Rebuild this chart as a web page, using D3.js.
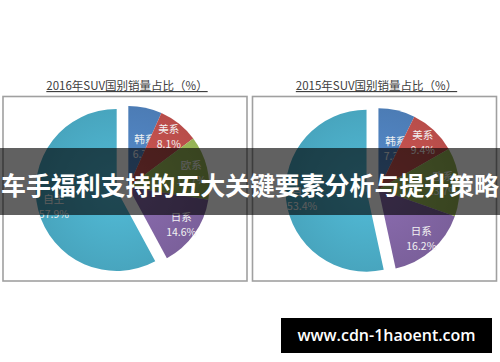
<!DOCTYPE html>
<html>
<head>
<meta charset="utf-8">
<script src="https://cdn.jsdelivr.net/npm/d3@7"></script>
<style>
  html, body { margin: 0; padding: 0; background: #fff; }
  svg { display: block; }
</style>
</head>
<body>
<svg id="chart"></svg>
<script>
var width = 500;
var height = 362;

// data
var categories = ["韩系", "美系", "欧系", "日系", "自主"];
var share2016 = [6.7, 8.1, 12.7, 14.6, 57.9];
var share2015 = [7.3, 9.4, 13.7, 16.2, 53.4];
var chartTitles = ["2016年SUV国别销量占比（%）", "2015年SUV国别销量占比（%）"];
var headline = "车手福利支持的五大关键要素分析与提升策略";
var watermark = "www.cdn-1haoent.com";

var colors = ["#4f81bd", "#c0504d", "#9bbb59", "#8064a2", "#4bacc6"];

// panel layout
var panels = [
  { title: chartTitles[0], values: share2016, x: 3, cx: 122.5, cy: 188.5 },
  { title: chartTitles[1], values: share2015, x: 252.5, cx: 372.5, cy: 190 }
];
var radius = 81;
var explode = 6;

var svg =
  d3.select("#chart")
      .attr("width", width)
      .attr("height", height);

var defs = svg.append("defs");

var pie =
  d3.pie()
    .sort(null)
    .value(d => d.value);

var arc =
  d3.arc()
    .innerRadius(0)
    .outerRadius(radius);

panels.forEach((p, pi) => {
  var g = svg.append("g").classed("panel", true);

  // title
  g.append("text")
      .text(p.title)
      .attr("x", p.x + 124)
      .attr("y", 90)
      .attr("text-anchor", "middle")
      .style("font-family", "'Noto Sans CJK SC', sans-serif")
      .style("font-size", "11.5px")
      .style("fill", "#404040")
      .style("text-decoration", "underline");

  // frame
  g.append("rect")
      .attr("x", p.x)
      .attr("y", 96.5)
      .attr("width", 244)
      .attr("height", 184.5)
      .attr("fill", "none")
      .attr("stroke", "#a0a0a0")
      .attr("stroke-width", 1.6);

  var rows = categories.map((c, i) => ({ name: c, value: p.values[i] }));
  var arcs = pie(rows);

  // two exploded groups: the small slices together, and the biggest one
  var last = arcs.length - 1;
  var restMid = arcs[last - 1].endAngle / 2;
  var bigMid = (arcs[last].startAngle + arcs[last].endAngle) / 2;
  var shift = d => {
    var a = d.index === last ? bigMid : restMid;
    return [Math.sin(a) * explode, -Math.cos(a) * explode];
  };

  // shading gradients
  colors.forEach((c, i) => {
    var grad =
      defs.append("radialGradient")
        .attr("id", `grad-${pi}-${i}`)
        .attr("gradientUnits", "userSpaceOnUse")
        .attr("cx", 0)
        .attr("cy", 0)
        .attr("r", radius);
    grad.append("stop")
        .attr("offset", "0%")
        .attr("stop-color", d3.color(c).brighter(0.25));
    grad.append("stop")
        .attr("offset", "100%")
        .attr("stop-color", d3.color(c).darker(0.12));
  });

  var slices =
    g.selectAll("g.slice")
      .data(arcs)
      .enter()
      .append("g")
        .classed("slice", true)
        .attr("transform", d => {
          var s = shift(d);
          return `translate(${p.cx + s[0]}, ${p.cy + s[1]})`;
        });

  slices
    .append("path")
      .attr("d", arc)
      .attr("fill", d => `url(#grad-${pi}-${d.index})`);

  // labels
  slices
    .append("g")
      .attr("transform", d => {
        var small = d.endAngle - d.startAngle < 0.48;
        var r = radius * (small ? 0.55 : 0.8);
        var a = (d.startAngle + d.endAngle) / 2 + (small ? 0.17 : 0);
        return `translate(${Math.sin(a) * r}, ${-Math.cos(a) * r})`;
      })
      .each(function(d) {
        var lbl = d3.select(this);
        lbl.append("text")
            .text(d.data.name)
            .attr("y", -3)
            .attr("text-anchor", "middle");
        lbl.append("text")
            .text(d3.format(".1f")(d.data.value) + "%")
            .attr("y", 12)
            .attr("text-anchor", "middle");
      })
      .selectAll("text")
        .style("font-family", "'Noto Sans CJK SC', sans-serif")
        .style("font-size", "10.5px")
        .style("fill", "#f2f2f2");
});

// headline banner
svg.append("rect")
    .attr("x", 0)
    .attr("y", 148)
    .attr("width", width)
    .attr("height", 67)
    .attr("fill", "rgba(0, 0, 0, 0.62)");

svg.append("text")
    .text(headline)
    .attr("x", width / 2)
    .attr("y", 186)
    .attr("dy", "0.35em")
    .attr("text-anchor", "middle")
    .attr("textLength", 498)
    .style("font-family", "'Noto Sans CJK SC', sans-serif")
    .style("font-weight", 700)
    .style("font-size", "25px")
    .style("fill", "#ffffff");

// watermark
svg.append("rect")
    .attr("x", 281)
    .attr("y", 318)
    .attr("width", 211)
    .attr("height", 35)
    .attr("fill", "#000");

svg.append("text")
    .text(watermark)
    .attr("x", 386.5)
    .attr("y", 335.5)
    .attr("dy", "0.35em")
    .attr("text-anchor", "middle")
    .style("font-family", "'Open Sans', sans-serif")
    .style("font-weight", 600)
    .style("font-size", "16px")
    .style("fill", "#ffffff");
</script>
</body>
</html>
